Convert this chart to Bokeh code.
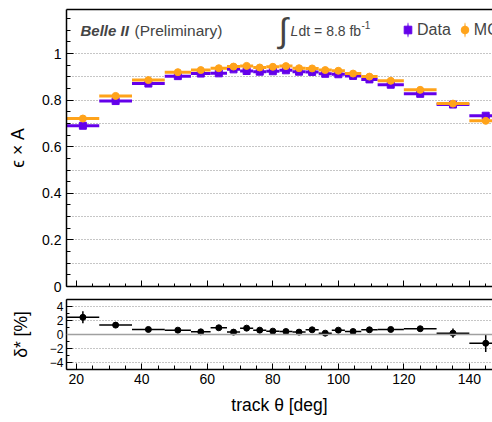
import math
from bokeh.plotting import figure
from bokeh.layouts import column
from bokeh.models import (ColumnDataSource, FixedTicker, LinearAxis, Range1d, Label,
                          Legend, LegendItem, Span, CustomLabelingPolicy)
from bokeh.embed import file_html
from bokeh.resources import INLINE

# ---------------- data ----------------
bin_lo = [17, 27, 37, 47, 55, 61, 66, 70, 74, 78, 82, 86, 90, 94, 98, 102, 107, 112, 120, 130, 140]
bin_hi = [27, 37, 47, 55, 61, 66, 70, 74, 78, 82, 86, 90, 94, 98, 102, 107, 112, 120, 130, 140, 150]
eff_data = [0.690, 0.796, 0.871, 0.903, 0.914, 0.915, 0.932, 0.925, 0.922, 0.924, 0.928,
            0.922, 0.921, 0.913, 0.911, 0.904, 0.889, 0.866, 0.827, 0.781, 0.733]
eff_mc = [0.721, 0.818, 0.886, 0.920, 0.929, 0.937, 0.944, 0.947, 0.940, 0.943, 0.946,
          0.937, 0.936, 0.929, 0.926, 0.914, 0.901, 0.883, 0.844, 0.785, 0.711]
delta = [2.45, 1.34, 0.72, 0.62, 0.38, 0.96, 0.34, 0.91, 0.62, 0.48, 0.43,
         0.34, 0.67, 0.19, 0.62, 0.43, 0.67, 0.72, 0.82, 0.19, -1.25]
delta_err = [0.86, 0.35, 0.2, 0.2, 0.2, 0.25, 0.2, 0.25, 0.2, 0.2, 0.2,
             0.2, 0.2, 0.2, 0.2, 0.2, 0.2, 0.2, 0.25, 0.67, 1.25]

x_major = [20, 40, 60, 80, 100, 120, 140]
x_minor = list(range(20, 150, 5))
top_major = [0, 0.2, 0.4, 0.6, 0.8, 1.0]
top_labels = ["0", "0.2", "0.4", "0.6", "0.8", "1"]
top_minor = [round(0.05 * i, 2) for i in range(0, 24)]
top_grid = [0.1, 0.2, 0.3, 0.4, 0.5, 0.6, 0.7, 0.8, 0.9, 1.0]
bot_major = [-4, -2, 0, 2, 4]
bot_labels = ["\u22124", "\u22122", "0", "2", "4"]
bot_grid = [-4, -2, 2, 4]

# ---------------- style ----------------
FONT = "Liberation Sans"
PURPLE = "#6400ea"
ORANGE = "#ffa31a"
XR = Range1d(17, 147.07)

centers = [(a + b) / 2 for a, b in zip(bin_lo, bin_hi)]
src = ColumnDataSource(dict(lo=bin_lo, hi=bin_hi, x=centers, data=eff_data, mc=eff_mc,
                            d=delta, dlo=[v - e for v, e in zip(delta, delta_err)],
                            dhi=[v + e for v, e in zip(delta, delta_err)]))


def style_axes(fig, ylab, ytick_size, y_stand, ylab_stand):
    fig.outline_line_color = None
    fig.xgrid.visible = False
    xa, ya = fig.below[0], fig.left[0]
    for ax in (xa, ya):
        ax.axis_line_color = "black"
        ax.axis_line_width = 1.5
        ax.major_tick_line_color = "black"
        ax.minor_tick_line_color = "black"
        ax.major_tick_line_width = 1
        ax.minor_tick_line_width = 1
        ax.major_tick_out = 0
        ax.minor_tick_out = 0
        ax.major_label_text_font = FONT
        ax.axis_label_text_font = FONT
        ax.axis_label_text_font_style = "normal"
        ax.axis_label_text_color = "black"
        ax.major_label_text_color = "black"
    ya.axis_label = ylab
    ya.axis_label_text_font_size = "17.5px"
    ya.major_label_text_font_size = ytick_size
    ya.major_label_standoff = y_stand
    ya.axis_label_standoff = ylab_stand
    xa.ticker = FixedTicker(ticks=x_major, minor_ticks=x_minor)
    top = LinearAxis(ticker=FixedTicker(ticks=[]), major_label_text_font_size="0px",
                     major_tick_in=0, major_tick_out=0, minor_tick_in=0, minor_tick_out=0,
                     axis_line_width=1.5, axis_line_color="black", major_label_standoff=0)
    fig.add_layout(top, "above")
    return xa, ya


# ---------------- top panel ----------------
p = figure(width=492, height=293, x_range=XR, y_range=Range1d(0, 1.189),
           output_backend="svg", toolbar_location=None,
           min_border_left=66, min_border_right=0, min_border_top=9, min_border_bottom=7)
pxa, pya = style_axes(p, "\u03f5 \u00d7 A", "14px", 5, 11)
pya.ticker = FixedTicker(ticks=top_major, minor_ticks=top_minor)
pya.major_label_overrides = {v: s for v, s in zip(top_major, top_labels)}
pya.major_tick_in = 7
pya.minor_tick_in = 4
pxa.major_label_text_font_size = "0px"
pxa.major_label_standoff = 0
pxa.major_label_policy = CustomLabelingPolicy(
    code="try { for (const i of Array.from(indices)) { indices.unset(i) } } catch (e) {} return indices")
pxa.major_tick_in = 6
pxa.minor_tick_in = 3
p.ygrid.ticker = FixedTicker(ticks=top_grid)
p.ygrid.grid_line_color = "#8c8c8c"
p.ygrid.grid_line_dash = "1 2"
p.ygrid.grid_line_width = 1

p.segment(x0="lo", y0="data", x1="hi", y1="data", line_color=PURPLE, line_width=3, source=src)
r_dsq = p.scatter("x", "data", marker="square", size=7, color=PURPLE, source=src)
p.segment(x0="lo", y0="mc", x1="hi", y1="mc", line_color=ORANGE, line_width=3, source=src)
r_mci = p.scatter("x", "mc", marker="circle", size=7, color=ORANGE, source=src)

# legend-only vertical bar glyphs (muted in the plot, drawn in the legend)
r_dv = p.ellipse(x="x", y="data", width=2, height=20, width_units="screen", height_units="screen",
                 fill_color=PURPLE, line_color=None, muted_fill_alpha=0, muted_line_alpha=0,
                 source=src)
r_mv = p.ellipse(x="x", y="mc", width=2, height=20, width_units="screen", height_units="screen",
                 fill_color=ORANGE, line_color=None, muted_fill_alpha=0, muted_line_alpha=0,
                 source=src)
r_dv.muted = True
r_mv.muted = True

legend = Legend(items=[LegendItem(label="Data", renderers=[r_dv, r_dsq]),
                       LegendItem(label="MC", renderers=[r_mv, r_mci])],
                orientation="horizontal", location=(332, 247),
                background_fill_alpha=0, border_line_color=None,
                label_text_font=FONT, label_text_font_size="16px",
                glyph_width=19, glyph_height=19, label_standoff=0,
                spacing=4, padding=0, margin=0, click_policy="none")
p.add_layout(legend, "center")

p.add_layout(Label(x=14, y=256, x_units="screen", y_units="screen", text="Belle II",
                   text_font=FONT, text_font_size="15px", text_font_style="bold italic",
                   text_baseline="middle"))
p.add_layout(Label(x=68, y=256, x_units="screen", y_units="screen", text="(Preliminary)",
                   text_font=FONT, text_font_size="15.5px", text_baseline="middle"))
p.add_layout(Label(x=217, y=257, x_units="screen", y_units="screen", text="\u222b",
                   text_font=FONT, text_font_size="34px", text_align="center",
                   text_baseline="middle"))
p.add_layout(Label(x=224, y=256, x_units="screen", y_units="screen", text="L",
                   text_font=FONT, text_font_size="14px", text_font_style="italic",
                   text_baseline="middle"))
p.add_layout(Label(x=232, y=256, x_units="screen", y_units="screen", text="dt = 8.8 fb",
                   text_font=FONT, text_font_size="14px", text_baseline="middle"))
p.add_layout(Label(x=295, y=262, x_units="screen", y_units="screen", text="-1",
                   text_font=FONT, text_font_size="10px", text_baseline="middle"))

# ---------------- bottom panel ----------------
q = figure(width=492, height=129, x_range=XR, y_range=Range1d(-5, 5),
           output_backend="svg", toolbar_location=None,
           min_border_left=66, min_border_right=0, min_border_top=6, min_border_bottom=53)
qxa, qya = style_axes(q, "\u03b4* [%]", "12px", 3, 16)
qya.ticker = FixedTicker(ticks=bot_major, minor_ticks=[-5, -3, -1, 1, 3, 5])
qya.major_label_overrides = {v: s for v, s in zip(bot_major, bot_labels)}
qya.major_tick_in = 6
qya.minor_tick_in = 3
qxa.axis_label = "track \u03b8 [deg]"
qxa.axis_label_text_font_size = "17.5px"
qxa.major_label_text_font_size = "14px"
qxa.major_label_standoff = 4
qxa.axis_label_standoff = 8
qxa.major_tick_in = 6
qxa.minor_tick_in = 4
q.ygrid.ticker = FixedTicker(ticks=bot_grid)
q.ygrid.grid_line_color = "#8c8c8c"
q.ygrid.grid_line_dash = "1 2"
q.ygrid.grid_line_width = 1
q.add_layout(Span(location=0, dimension="width", line_color="#a0a0a0", line_width=1.5))

q.segment(x0="lo", y0="d", x1="hi", y1="d", line_color="black", line_width=1.5, source=src)
q.segment(x0="x", y0="dlo", x1="x", y1="dhi", line_color="black", line_width=1.5, source=src)
q.scatter("x", "d", marker="circle", size=6, color="black", source=src)

layout = column(p, q, spacing=0)
open("out.html", "w").write(file_html(layout, INLINE))
